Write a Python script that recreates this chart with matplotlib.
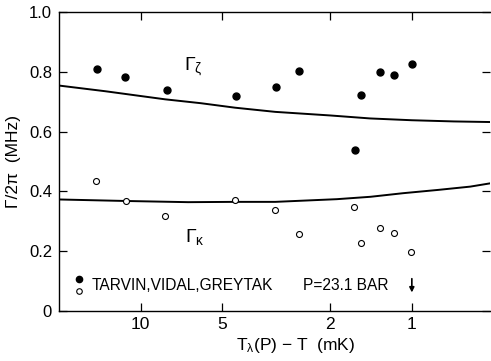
import matplotlib
matplotlib.use("Agg")
import matplotlib.pyplot as plt
from matplotlib.ticker import FixedLocator, FixedFormatter, NullLocator

plt.rcParams['font.family'] = ['Liberation Sans', 'DejaVu Sans']
plt.rcParams['mathtext.fontset'] = 'custom'
plt.rcParams['mathtext.rm'] = 'Liberation Sans'
plt.rcParams['mathtext.it'] = 'Liberation Sans'

# Gamma_zeta data (filled circles)
T_zeta = [14.5, 11.4, 8.02, 4.45, 3.18, 2.60, 1.615, 1.54, 1.306, 1.162, 1.0]
G_zeta = [0.809, 0.784, 0.738, 0.719, 0.748, 0.803, 0.539, 0.722, 0.799, 0.789, 0.827]

# Gamma_kappa data (open circles)
T_kappa = [14.66, 11.3, 8.1, 4.5, 3.2, 2.61, 1.63, 1.54, 1.306, 1.163, 1.005]
G_kappa = [0.435, 0.369, 0.318, 0.371, 0.339, 0.259, 0.347, 0.228, 0.277, 0.260, 0.196]

# Theory curves
T_upper = [20.0, 13.5, 10.0, 8.13, 6.0, 4.49, 3.19, 2.0, 1.425, 1.0, 0.7, 0.514]
G_upper = [0.754, 0.735, 0.719, 0.708, 0.695, 0.680, 0.666, 0.654, 0.644, 0.638, 0.634, 0.632]

T_lower = [20.0, 11.4, 6.68, 4.49, 3.19, 1.89, 1.42, 1.077, 0.8, 0.609, 0.514]
G_lower = [0.373, 0.368, 0.364, 0.365, 0.365, 0.374, 0.382, 0.394, 0.405, 0.416, 0.427]

x_ticks = [10, 5, 2, 1]
x_ticklabels = ["10", "5", "2", "1"]
y_ticks = [0, 0.2, 0.4, 0.6, 0.8, 1.0]
y_ticklabels = ["0", "0.2", "0.4", "0.6", "0.8", "1.0"]

fig = plt.figure(figsize=(4.91, 3.61), dpi=100)
ax = fig.add_axes([59/491, 1-311/361, (490-59)/491, (311-12)/361])

ax.set_xscale('log')
ax.set_xlim(20.0, 0.515)
ax.set_ylim(0, 1.0)

ax.plot(T_upper, G_upper, color='black', lw=1.4)
ax.plot(T_lower, G_lower, color='black', lw=1.4)
ax.plot(T_zeta, G_zeta, 'o', color='black', ms=5.0, mec='black')
ax.plot(T_kappa, G_kappa, 'o', mfc='white', mec='black', ms=4.3, mew=0.8)

ax.xaxis.set_major_locator(FixedLocator(x_ticks))
ax.xaxis.set_major_formatter(FixedFormatter(x_ticklabels))
ax.xaxis.set_minor_locator(NullLocator())
ax.yaxis.set_major_locator(FixedLocator(y_ticks))
ax.yaxis.set_major_formatter(FixedFormatter(y_ticklabels))

ax.tick_params(axis='both', direction='in', top=True, right=True, length=6, width=0.9, labelsize=12)
ax.tick_params(axis='x', pad=4, labelsize=12.5)
ax.tick_params(axis='y', pad=5)
for s in ['left', 'bottom', 'top']:
    ax.spines[s].set_linewidth(1.0)
ax.spines['right'].set_visible(False)

ax.set_ylabel('Γ/2π  (MHz)', fontsize=12.5)
ax.yaxis.set_label_coords(-0.105, 0.5)
ax.set_xlabel(r'T$_\lambda$(P) − T  (mK)', fontsize=12.5)
ax.xaxis.set_label_coords(0.55, -0.114)
ax.xaxis.label.set_va('center')
ax.yaxis.label.set_va('center')

ax.text(6.92, 0.819, r'$\Gamma_\zeta$', fontsize=14, ha='left', va='center')
ax.text(6.87, 0.247, r'$\Gamma_\kappa$', fontsize=14, ha='left', va='center')

# legend
ax.plot([16.85], [0.107], 'o', color='black', ms=4.5)
ax.plot([16.85], [0.067], 'o', mfc='white', mec='black', ms=4.0, mew=0.8)
ax.text(15.17, 0.084, 'TARVIN,VIDAL,GREYTAK', fontsize=11.2, ha='left', va='center')
ax.text(2.52, 0.084, 'P=23.1 BAR', fontsize=11.2, ha='left', va='center')
ax.annotate('', xy=(1.0, 0.062), xytext=(1.0, 0.108),
            arrowprops=dict(arrowstyle='-|>', color='black', lw=1.2, mutation_scale=7,
                            shrinkA=0, shrinkB=0))

fig.savefig('out.png', dpi=100)
